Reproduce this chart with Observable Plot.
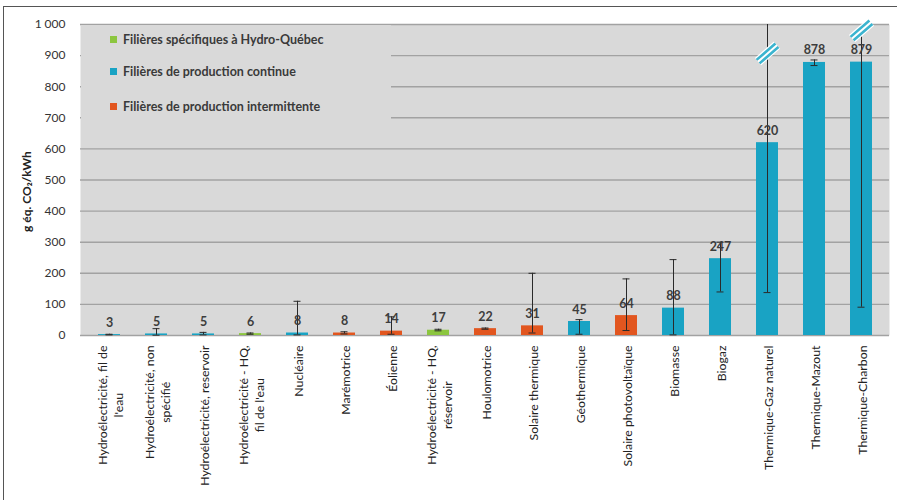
<!DOCTYPE html>
<html><head><meta charset="utf-8">
<script src="https://cdn.jsdelivr.net/npm/d3@7"></script>
<script src="https://cdn.jsdelivr.net/npm/@observablehq/plot@0.6"></script>
<style>
body{margin:0;background:#fff;font-family:Lato,sans-serif;}
#wrap{position:relative;width:897px;height:500px;overflow:hidden;background:#fff;}
#border{position:absolute;left:3px;top:6px;width:910px;height:520px;border:1.5px solid #555;box-sizing:border-box;pointer-events:none;}
#legend{position:absolute;left:81px;top:25px;width:310px;height:104px;background:#d9d9d9;}
.li{position:absolute;left:29px;height:14px;font:bold 12.5px Lato,sans-serif;color:#3a3a3a;white-space:nowrap;line-height:14px;}
.li span.sw{display:inline-block;width:7px;height:7px;margin-right:6px;vertical-align:1px;}
</style></head>
<body><div id="wrap"><div id="border"></div></div>
<script>
const categories = [
  "Hydroélectricité, fil de\nl'eau",
  "Hydroélectricité, non\nspécifié",
  "Hydroélectricité, reservoir",
  "Hydroélectricité - HQ,\nfil de l'eau",
  "Nucléaire",
  "Marémotrice",
  "Éolienne",
  "Hydroélectricité - HQ,\nréservoir",
  "Houlomotrice",
  "Solaire thermique",
  "Géothermique",
  "Solaire photovoltaïque",
  "Biomasse",
  "Biogaz",
  "Thermique-Gaz naturel",
  "Thermique-Mazout",
  "Thermique-Charbon"
];
const values = [3,5,5,6,8,8,14,17,22,31,45,64,88,247,620,878,879];
const groups = ["continue","continue","continue","hq","continue","intermittente","intermittente","hq","intermittente","intermittente","continue","intermittente","continue","continue","continue","continue","continue"];
const errLow  = [2,1,2,4,2,5,4,15,20,8,4,16,2,140,138,868,91];
const errHigh = [4,22,10,8,110,12,60,20,24,200,51,182,244,300,1200,886,1200];
const breakCategories = ["Thermique-Gaz naturel","Thermique-Charbon"];
const breakValues = [907, 981];
const yTicks = [0,100,200,300,400,500,600,700,800,900,1000];
const groupKeys = ["hq","continue","intermittente"];
const groupColors = ["#8cc63f","#19a3c4","#e2561f"];
const legendLabels = ["Filières spécifiques à Hydro-Québec","Filières de production continue","Filières de production intermittente"];

const table = categories.map((c,i)=>({cat:c, value:values[i], group:groups[i], low:errLow[i], high:errHigh[i]}));
const caps = table.flatMap(d=>[{cat:d.cat,v:d.low},{cat:d.cat,v:d.high}]).filter(d=>d.v<=1000);
const breaks = breakCategories.map((c,i)=>({cat:c, v:breakValues[i]}));

const ang = 41*Math.PI/180;
const breakSymbol = {draw(ctx,size){
  const r = Math.sqrt(size/Math.PI);
  const a = Math.cos(ang)*r, b = Math.sin(ang)*r;
  const nx = Math.sin(ang), ny = Math.cos(ang), g = 2.3;
  for (const s of [-1,1]) {
    ctx.moveTo(-a + s*nx*g, b + s*ny*g);
    ctx.lineTo(a + s*nx*g, -b + s*ny*g);
  }
}};

const chart = Plot.plot({
  width: 897, height: 500,
  marginLeft: 80, marginRight: 8, marginTop: 24, marginBottom: 165,
  style: {fontFamily: "Lato, sans-serif", fontSize: "12px", color: "#333", background: "transparent"},
  x: {domain: categories, paddingInner: 0.54, paddingOuter: 0.27, axis: null},
  y: {domain: [0,1000], ticks: yTicks, tickSize: 0, tickPadding: 15, label: null,
      tickFormat: d => d3.format(",")(d).replace(",", "\u202f")},
  color: {domain: groupKeys, range: groupColors},
  marks: [
    Plot.frame({fill: "#d9d9d9", stroke: "none"}),
    Plot.ruleY(yTicks, {stroke: "#a2a2a2", strokeWidth: 1.4}),
    Plot.barY(table, {x: "cat", y: "value", fill: "group"}),
    Plot.ruleX(table, {x: "cat", y1: "low", y2: "high", stroke: "#2a2a2a", strokeWidth: 1, clip: true}),
    Plot.tickY(caps, {x: "cat", y: "v", stroke: "#2a2a2a", strokeWidth: 1, insetLeft: 7.5, insetRight: 7.5}),
    Plot.text(table, {x: "cat", y: "value", text: d => String(d.value), dy: -12, fontWeight: "bold", fontSize: 12.5, fill: "#3d3d3d"}),
    Plot.dot(breaks, {x: "cat", y: "v", symbol: breakSymbol, r: 12.5, stroke: "#ffffff", strokeWidth: 5, fill: "none"}),
    Plot.dot(breaks, {x: "cat", y: "v", symbol: breakSymbol, r: 12.5, stroke: "#3bb4cf", strokeWidth: 2.6, fill: "none"}),
    Plot.text(categories, {x: d => d, frameAnchor: "bottom", dy: 10, rotate: -90, textAnchor: "end", lineAnchor: "middle", lineHeight: 1.35, fontSize: 12.3, fill: "#222"}),
    Plot.text(["g éq. CO₂/kWh"], {frameAnchor: "left", dx: -53, dy: 52, rotate: -90, fontWeight: "bold", fontSize: 12, fill: "#222"})
  ]
});
const wrap = document.getElementById("wrap");
wrap.insertBefore(chart, wrap.firstChild);
chart.style.position = "absolute"; chart.style.left = "0"; chart.style.top = "0";

// legend
const leg = document.createElement("div"); leg.id = "legend";
const rowTops = [8, 40, 75];
legendLabels.forEach((l,i)=>{
  const d = document.createElement("div"); d.className = "li"; d.style.top = rowTops[i] + "px";
  const sw = document.createElement("span"); sw.className = "sw"; sw.style.background = groupColors[i];
  d.appendChild(sw); d.appendChild(document.createTextNode(l)); leg.appendChild(d);
});
wrap.appendChild(leg);

// center wrapped lines of multi-line category labels
for (const t of chart.querySelectorAll("text")) {
  const sp = t.querySelectorAll("tspan");
  if (sp.length < 2) continue;
  const w = Math.max(...[...sp].map(s => s.getComputedTextLength()));
  t.setAttribute("text-anchor", "middle");
  sp.forEach(s => s.setAttribute("x", -w/2));
}
</script></body></html>
